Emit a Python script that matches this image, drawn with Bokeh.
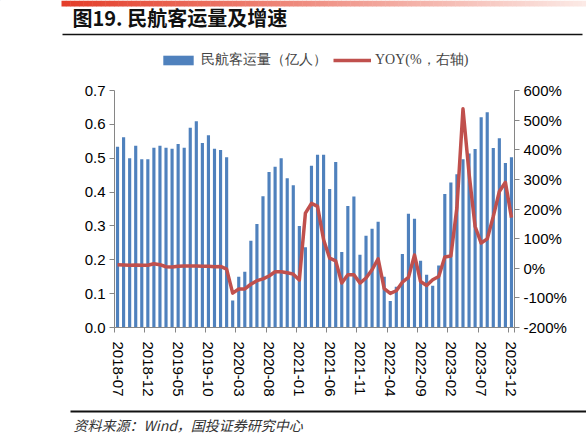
import pandas as pd
from bokeh.plotting import figure
from bokeh.models import (Range1d, LinearAxis, FixedTicker, PrintfTickFormatter,
                          Legend, LegendItem, ColumnDataSource)
from bokeh.layouts import column
from bokeh.core.properties import value
from bokeh.embed import file_html
from bokeh.resources import INLINE

# monthly categories 2018-07 .. 2023-12
months = [m.strftime("%Y-%m") for m in pd.period_range("2018-07", "2023-12", freq="M")]

# civil aviation passengers (100 million)
passengers = [0.534, 0.562, 0.500, 0.537, 0.497, 0.497,
              0.531, 0.537, 0.531, 0.528, 0.542, 0.531, 0.590, 0.609, 0.545, 0.568, 0.528, 0.524,
              0.503, 0.080, 0.150, 0.165, 0.256, 0.306, 0.388, 0.459, 0.475, 0.500, 0.441, 0.420,
              0.300, 0.237, 0.478, 0.510, 0.510, 0.409, 0.489, 0.223, 0.359, 0.387, 0.215, 0.271,
              0.292, 0.312, 0.150, 0.078, 0.120, 0.217, 0.336, 0.321, 0.197, 0.156, 0.123, 0.183,
              0.394, 0.428, 0.453, 0.497, 0.514, 0.527, 0.621, 0.636, 0.530, 0.559, 0.486, 0.503]

# year-on-year growth, %
yoy = [12, 11, 10, 11, 10, 10,
       15, 12, 5, 4, 7, 8, 8, 8, 7, 7, 5, 6,
       -3, -84, -70, -70, -54, -42, -36, -26, -12, -12, -15, -20,
       -40, 186, 219, 209, 96, 34, 25, -50, -22, -22, -50, -33,
       -5, 32, -69, -85, -76, -47, -31, 45, -45, -58, -39, -28,
       38, 41, 205, 538, 320, 141, 85, 99, 175, 259, 290, 171]

label_idx = list(range(0, len(months), 5))
left_ticks = [0.0, 0.1, 0.2, 0.3, 0.4, 0.5, 0.6, 0.7]
right_ticks = [-200, -100, 0, 100, 200, 300, 400, 500, 600]

title_text = "图19. 民航客运量及增速"
source_text = "资料来源：Wind，国投证券研究中心"
bar_label = "民航客运量（亿人）"
line_label = "YOY(%，右轴)"

BLUE = "#4F81BD"
RED = "#C0504D"
AXIS = "#868686"
W = 586
HEAD_H, MAIN_H, FOOT_H = 78, 327, 36


def blank(h):
    f = figure(width=W, height=h, x_range=Range1d(0, W), y_range=Range1d(h, 0),
               x_axis_location=None, y_axis_location=None, min_border=0,
               toolbar_location=None, output_backend="svg", frame_align=False)
    f.grid.visible = False
    f.outline_line_color = None
    return f


# header: gradient strip, title, underline, legend
head = blank(HEAD_H)
n = 120
x0, x1 = 61, W
c0, c1 = (228, 62, 42), (252, 234, 230)
lefts = [x0 + (x1 - x0) * i / n for i in range(n)]
rights = [x0 + (x1 - x0) * (i + 1) / n + 0.5 for i in range(n)]
cols = ["#%02x%02x%02x" % tuple(int(a + (b - a) * i / (n - 1)) for a, b in zip(c0, c1)) for i in range(n)]
head.quad(left=lefts, right=rights, top=0, bottom=6, fill_color=cols, line_color=None)
head.text(x=[72], y=[17], text=[title_text], text_font=value("Noto Sans CJK SC"),
          text_font_size="20px", text_font_style="bold", text_color="#111111",
          text_baseline="middle")
head.segment(x0=[62], y0=[34], x1=[582], y1=[34], line_color="#111111", line_width=1.5)

# legend keys (styled like the chart's renderers, drawn off-canvas)
key_bar = head.vbar(x=[-50], top=[-50], bottom=[-60], width=1, fill_color=BLUE, line_color=None)
key_line = head.line(x=[-60, -50], y=[-50, -50], line_color=RED, line_width=3.5)
legend = Legend(items=[LegendItem(label=bar_label, renderers=[key_bar]),
                       LegendItem(label=line_label, renderers=[key_line])],
                orientation="horizontal", location=(159, 9),
                border_line_color=None, background_fill_alpha=0,
                glyph_width=38, glyph_height=12, label_height=18,
                label_text_font="Liberation Serif", label_text_font_size="14px",
                label_standoff=4, spacing=6, padding=0, margin=0)
head.add_layout(legend, "center")

# main chart
src = ColumnDataSource(dict(x=list(range(len(months))), pax=passengers, yoy=yoy))
p = figure(width=W, height=MAIN_H, x_range=Range1d(-0.5, len(months) - 0.5),
           y_range=Range1d(0, 0.7), toolbar_location=None, output_backend="svg",
           frame_align=False,
           min_border_left=114, min_border_right=72, min_border_top=12, min_border_bottom=78)
p.grid.visible = False
p.outline_line_color = None
p.extra_y_ranges = {"yoy": Range1d(-200, 600)}

bars = p.vbar(x="x", top="pax", width=0.52, source=src, fill_color=BLUE, line_color=None)
ln = p.line(x="x", y="yoy", source=src, y_range_name="yoy", line_color=RED,
            line_width=3.5, line_join="round")

ax_r = LinearAxis(y_range_name="yoy", ticker=FixedTicker(ticks=right_ticks),
                  formatter=PrintfTickFormatter(format="%d%%"))
p.add_layout(ax_r, "right")

p.yaxis[0].ticker = FixedTicker(ticks=left_ticks)
p.yaxis[0].formatter = PrintfTickFormatter(format="%.1f")

p.xaxis.ticker = FixedTicker(ticks=label_idx,
                             minor_ticks=[i - 0.5 for i in label_idx] + [len(months) - 0.5])
p.xaxis.major_label_overrides = {i: months[i] for i in label_idx}
p.xaxis.major_label_orientation = "vertical"
p.xaxis.major_tick_out = 0
p.xaxis.major_tick_in = 0
p.xaxis.minor_tick_out = 5
p.xaxis.minor_tick_in = 0
p.xaxis.minor_tick_line_color = AXIS
p.xaxis.major_label_standoff = 9

for ax in p.yaxis:
    ax.minor_tick_line_color = None
    ax.major_tick_out = 5
    ax.major_tick_in = 0
    ax.major_label_standoff = 4

for ax in p.axis:
    ax.axis_line_color = AXIS
    ax.major_tick_line_color = AXIS
    ax.major_label_text_font = "Liberation Sans"
    ax.major_label_text_font_size = "15px"
    ax.major_label_text_color = "#000000"

# footer: rule and source
foot = blank(FOOT_H)
foot.segment(x0=[70], y0=[6], x1=[W], y1=[6], line_color="#111111", line_width=2)
foot.text(x=[73], y=[19], text=[source_text], text_font=value("Noto Sans CJK SC"),
          text_font_size="14px", text_font_style="italic", text_color="#333333",
          text_baseline="middle")

layout = column(head, p, foot)
open("out.html", "w").write(file_html(layout, INLINE))
